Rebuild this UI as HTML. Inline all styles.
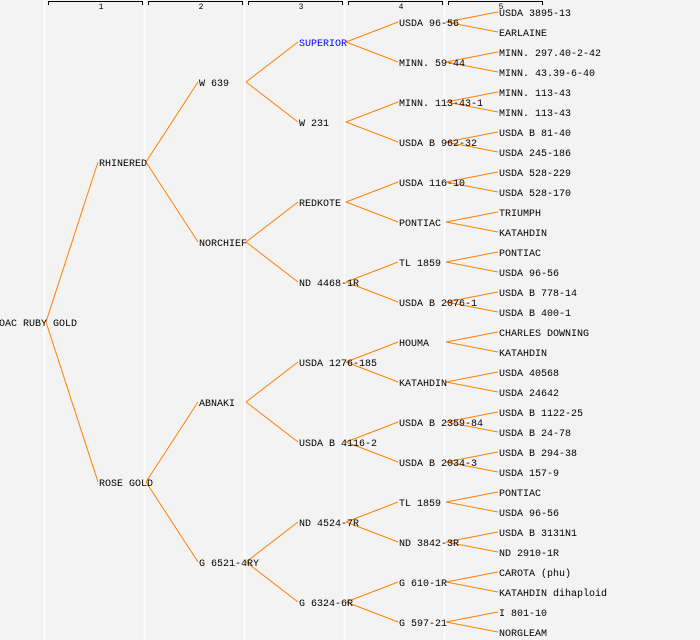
<!DOCTYPE html>
<html><head><meta charset="utf-8"><style>
html,body{margin:0;padding:0;background:#f3f3f3;}
svg{display:block;}
text{font-family:"Liberation Mono","DejaVu Sans Mono",monospace;font-size:10px;fill:#000;}
.n{font-size:8px;}
</style></head><body>
<svg width="700" height="640" viewBox="0 0 700 640" xmlns="http://www.w3.org/2000/svg">
<rect width="700" height="640" fill="#f3f3f3"/>
<g stroke="#fff" stroke-width="1.5">
<line x1="44.5" y1="0" x2="44.5" y2="640"/><line x1="144.5" y1="0" x2="144.5" y2="640"/><line x1="244.5" y1="0" x2="244.5" y2="640"/><line x1="344.5" y1="0" x2="344.5" y2="640"/><line x1="444.5" y1="0" x2="444.5" y2="640"/>
</g>
<g stroke="#000" stroke-width="1" fill="none">
<path d="M48.5 5V1.5H142.5V5"/><path d="M148.5 5V1.5H242.5V5"/><path d="M248.5 5V1.5H342.5V5"/><path d="M348.5 5V1.5H442.5V5"/><path d="M448.5 5V1.5H542.5V5"/>
</g>
<g text-anchor="middle"><text class="n" x="101" y="9">1</text><text class="n" x="201" y="9">2</text><text class="n" x="301" y="9">3</text><text class="n" x="401" y="9">4</text><text class="n" x="501" y="9">5</text></g>
<g stroke="#ff8000" stroke-width="1" fill="none">
<path d="M46 322L98 162M46 322L98 482"/>
<path d="M146 162L198 82M146 162L198 242M146 482L198 402M146 482L198 562"/>
<path d="M246 82L298 42M246 82L298 122M246 242L298 202M246 242L298 282M246 402L298 362M246 402L298 442M246 562L298 522M246 562L298 602"/>
<path d="M346 42L398 22M346 42L398 62M346 122L398 102M346 122L398 142M346 202L398 182M346 202L398 222M346 282L398 262M346 282L398 302M346 362L398 342M346 362L398 382M346 442L398 422M346 442L398 462M346 522L398 502M346 522L398 542M346 602L398 582M346 602L398 622"/>
<path d="M446 22L498 12M446 22L498 32M446 62L498 52M446 62L498 72M446 102L498 92M446 102L498 112M446 142L498 132M446 142L498 152M446 182L498 172M446 182L498 192M446 222L498 212M446 222L498 232M446 262L498 252M446 262L498 272M446 302L498 292M446 302L498 312M446 342L498 332M446 342L498 352M446 382L498 372M446 382L498 392M446 422L498 412M446 422L498 432M446 462L498 452M446 462L498 472M446 502L498 492M446 502L498 512M446 542L498 532M446 542L498 552M446 582L498 572M446 582L498 592M446 622L498 612M446 622L498 632"/>
</g>
<g>
<text x="-1" y="326">OAC RUBY GOLD</text>
<text x="99" y="166">RHINERED</text><text x="99" y="486">ROSE GOLD</text>
<text x="199" y="86">W 639</text><text x="199" y="246">NORCHIEF</text><text x="199" y="406">ABNAKI</text><text x="199" y="566">G 6521-4RY</text>
<text x="299" y="46" style="fill:#0000ff">SUPERIOR</text><text x="299" y="126">W 231</text><text x="299" y="206">REDKOTE</text><text x="299" y="286">ND 4468-1R</text><text x="299" y="366">USDA 1276-185</text><text x="299" y="446">USDA B 4116-2</text><text x="299" y="526">ND 4524-7R</text><text x="299" y="606">G 6324-6R</text>
<text x="399" y="26">USDA 96-56</text><text x="399" y="66">MINN. 59-44</text><text x="399" y="106">MINN. 113-43-1</text><text x="399" y="146">USDA B 962-32</text><text x="399" y="186">USDA 116-10</text><text x="399" y="226">PONTIAC</text><text x="399" y="266">TL 1859</text><text x="399" y="306">USDA B 2076-1</text><text x="399" y="346">HOUMA</text><text x="399" y="386">KATAHDIN</text><text x="399" y="426">USDA B 2359-84</text><text x="399" y="466">USDA B 2034-3</text><text x="399" y="506">TL 1859</text><text x="399" y="546">ND 3842-3R</text><text x="399" y="586">G 610-1R</text><text x="399" y="626">G 597-21</text>
<text x="499" y="16">USDA 3895-13</text><text x="499" y="36">EARLAINE</text><text x="499" y="56">MINN. 297.40-2-42</text><text x="499" y="76">MINN. 43.39-6-40</text><text x="499" y="96">MINN. 113-43</text><text x="499" y="116">MINN. 113-43</text><text x="499" y="136">USDA B 81-40</text><text x="499" y="156">USDA 245-186</text><text x="499" y="176">USDA 528-229</text><text x="499" y="196">USDA 528-170</text><text x="499" y="216">TRIUMPH</text><text x="499" y="236">KATAHDIN</text><text x="499" y="256">PONTIAC</text><text x="499" y="276">USDA 96-56</text><text x="499" y="296">USDA B 778-14</text><text x="499" y="316">USDA B 400-1</text><text x="499" y="336">CHARLES DOWNING</text><text x="499" y="356">KATAHDIN</text><text x="499" y="376">USDA 40568</text><text x="499" y="396">USDA 24642</text><text x="499" y="416">USDA B 1122-25</text><text x="499" y="436">USDA B 24-78</text><text x="499" y="456">USDA B 294-38</text><text x="499" y="476">USDA 157-9</text><text x="499" y="496">PONTIAC</text><text x="499" y="516">USDA 96-56</text><text x="499" y="536">USDA B 3131N1</text><text x="499" y="556">ND 2910-1R</text><text x="499" y="576">CAROTA (phu)</text><text x="499" y="596">KATAHDIN dihaploid</text><text x="499" y="616">I 801-10</text><text x="499" y="636">NORGLEAM</text>
</g>
</svg>
</body></html>
